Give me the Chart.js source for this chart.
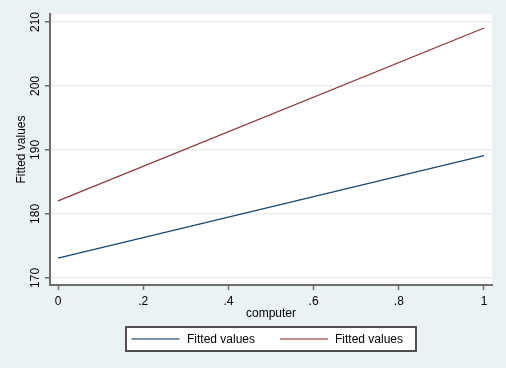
<!DOCTYPE html>
<html>
<head>
<meta charset="utf-8">
<script src="https://cdn.jsdelivr.net/npm/chart.js@4"></script>
<style>
  html, body { margin: 0; padding: 0; background: #eaf2f3; }
  #wrap { width: 506px; height: 368px; }
</style>
</head>
<body>
<div id="wrap"><canvas id="fitted_chart"></canvas></div>
<script>
// values
var computer = [0, 1];
var fitted_a = [173.1, 189.1];
var fitted_b = [182.05, 209.06];
var series_names = ["Fitted values", "Fitted values"];
var x_ticks = [0, 0.2, 0.4, 0.6, 0.8, 1];
var y_ticks = [170, 180, 190, 200, 210];

var blue = "#1a476f", red = "#90353b", axis_grey = "#6e6e6e";
var font = "Liberation Sans, Arial, Helvetica, sans-serif";

function points(ys) {
    return computer.map(function (x, i) { return { x: x, y: ys[i] }; });
}

// white plot region, rotated y labels and the boxed legend (stata look)
var stata_bits = {
    id: "stata_bits",
    beforeDraw: function (chart) {
        var c = chart.ctx, a = chart.chartArea;
        c.save();
        c.fillStyle = "#ffffff";
        c.fillRect(a.left, a.top, a.right - a.left, a.bottom - a.top);
        c.restore();
    },
    afterDraw: function (chart) {
        var c = chart.ctx, ys = chart.scales.y;
        c.save();
        c.fillStyle = "#000";
        c.font = "12px " + font;
        c.textAlign = "center";
        c.textBaseline = "middle";
        y_ticks.forEach(function (v) {
            c.save();
            c.translate(36, ys.getPixelForValue(v));
            c.rotate(-Math.PI / 2);
            c.fillText(String(v), 0, 0);
            c.restore();
        });

        // legend
        c.fillStyle = "#ffffff";
        c.fillRect(126, 327, 290, 24);
        c.strokeStyle = "#505050";
        c.lineWidth = 2;
        c.strokeRect(126, 327, 290, 24);
        var samples = [["#7d93a9", 131.5, 187], ["#c08a8e", 280, 335]];
        samples.forEach(function (s, i) {
            c.strokeStyle = s[0];
            c.lineWidth = 2;
            c.beginPath();
            c.moveTo(s[1], 339);
            c.lineTo(s[1] + 48, 339);
            c.stroke();
            c.fillStyle = "#000";
            c.textAlign = "left";
            c.fillText(series_names[i], s[2], 340);
        });
        c.restore();
    }
};

var ctx = document.getElementById("fitted_chart");
new Chart(ctx, {
    type: "line",
    data: {
        datasets: [
            { label: series_names[0], data: points(fitted_a), borderColor: blue, borderWidth: 1.3, pointRadius: 0, fill: false },
            { label: series_names[1], data: points(fitted_b), borderColor: red, borderWidth: 1.3, pointRadius: 0, fill: false }
        ]
    },
    options: {
        responsive: true,
        maintainAspectRatio: false,
        animation: false,
        layout: { padding: { left: 0, top: 14, right: 14, bottom: 0 } },
        plugins: { legend: { display: false }, tooltip: { enabled: false } },
        scales: {
            x: {
                type: "linear",
                min: -0.01878,
                max: 1.01878,
                afterFit: function (s) { s.height = 83; },
                afterBuildTicks: function (s) { s.ticks = x_ticks.map(function (v) { return { value: v }; }); },
                grid: { drawOnChartArea: false, drawTicks: true, tickLength: 5, tickColor: axis_grey, tickWidth: 1.5 },
                border: { color: axis_grey, width: 2 },
                ticks: {
                    color: "#000",
                    padding: 4,
                    maxRotation: 0,
                    font: { family: font, size: 12 },
                    callback: function (v) { return v === 0 || v === 1 ? String(v) : String(+v.toFixed(1)).replace("0.", "."); }
                },
                title: { display: true, text: "computer", color: "#000", font: { family: font, size: 12 }, padding: { top: 0, bottom: 47.5 } }
            },
            y: {
                min: 168.89,
                max: 211.25,
                afterFit: function (s) { s.width = 50; },
                afterBuildTicks: function (s) { s.ticks = y_ticks.map(function (v) { return { value: v }; }); },
                grid: { color: "#e8eff0", lineWidth: 1.5, drawTicks: true, tickLength: 5, tickColor: axis_grey, tickWidth: 1.5 },
                border: { color: axis_grey, width: 2 },
                ticks: { display: false },
                title: { display: true, text: "Fitted values", color: "#000", font: { family: font, size: 12 }, padding: { top: 14, bottom: 0 } }
            }
        }
    },
    plugins: [stata_bits]
});
</script>
</body>
</html>
